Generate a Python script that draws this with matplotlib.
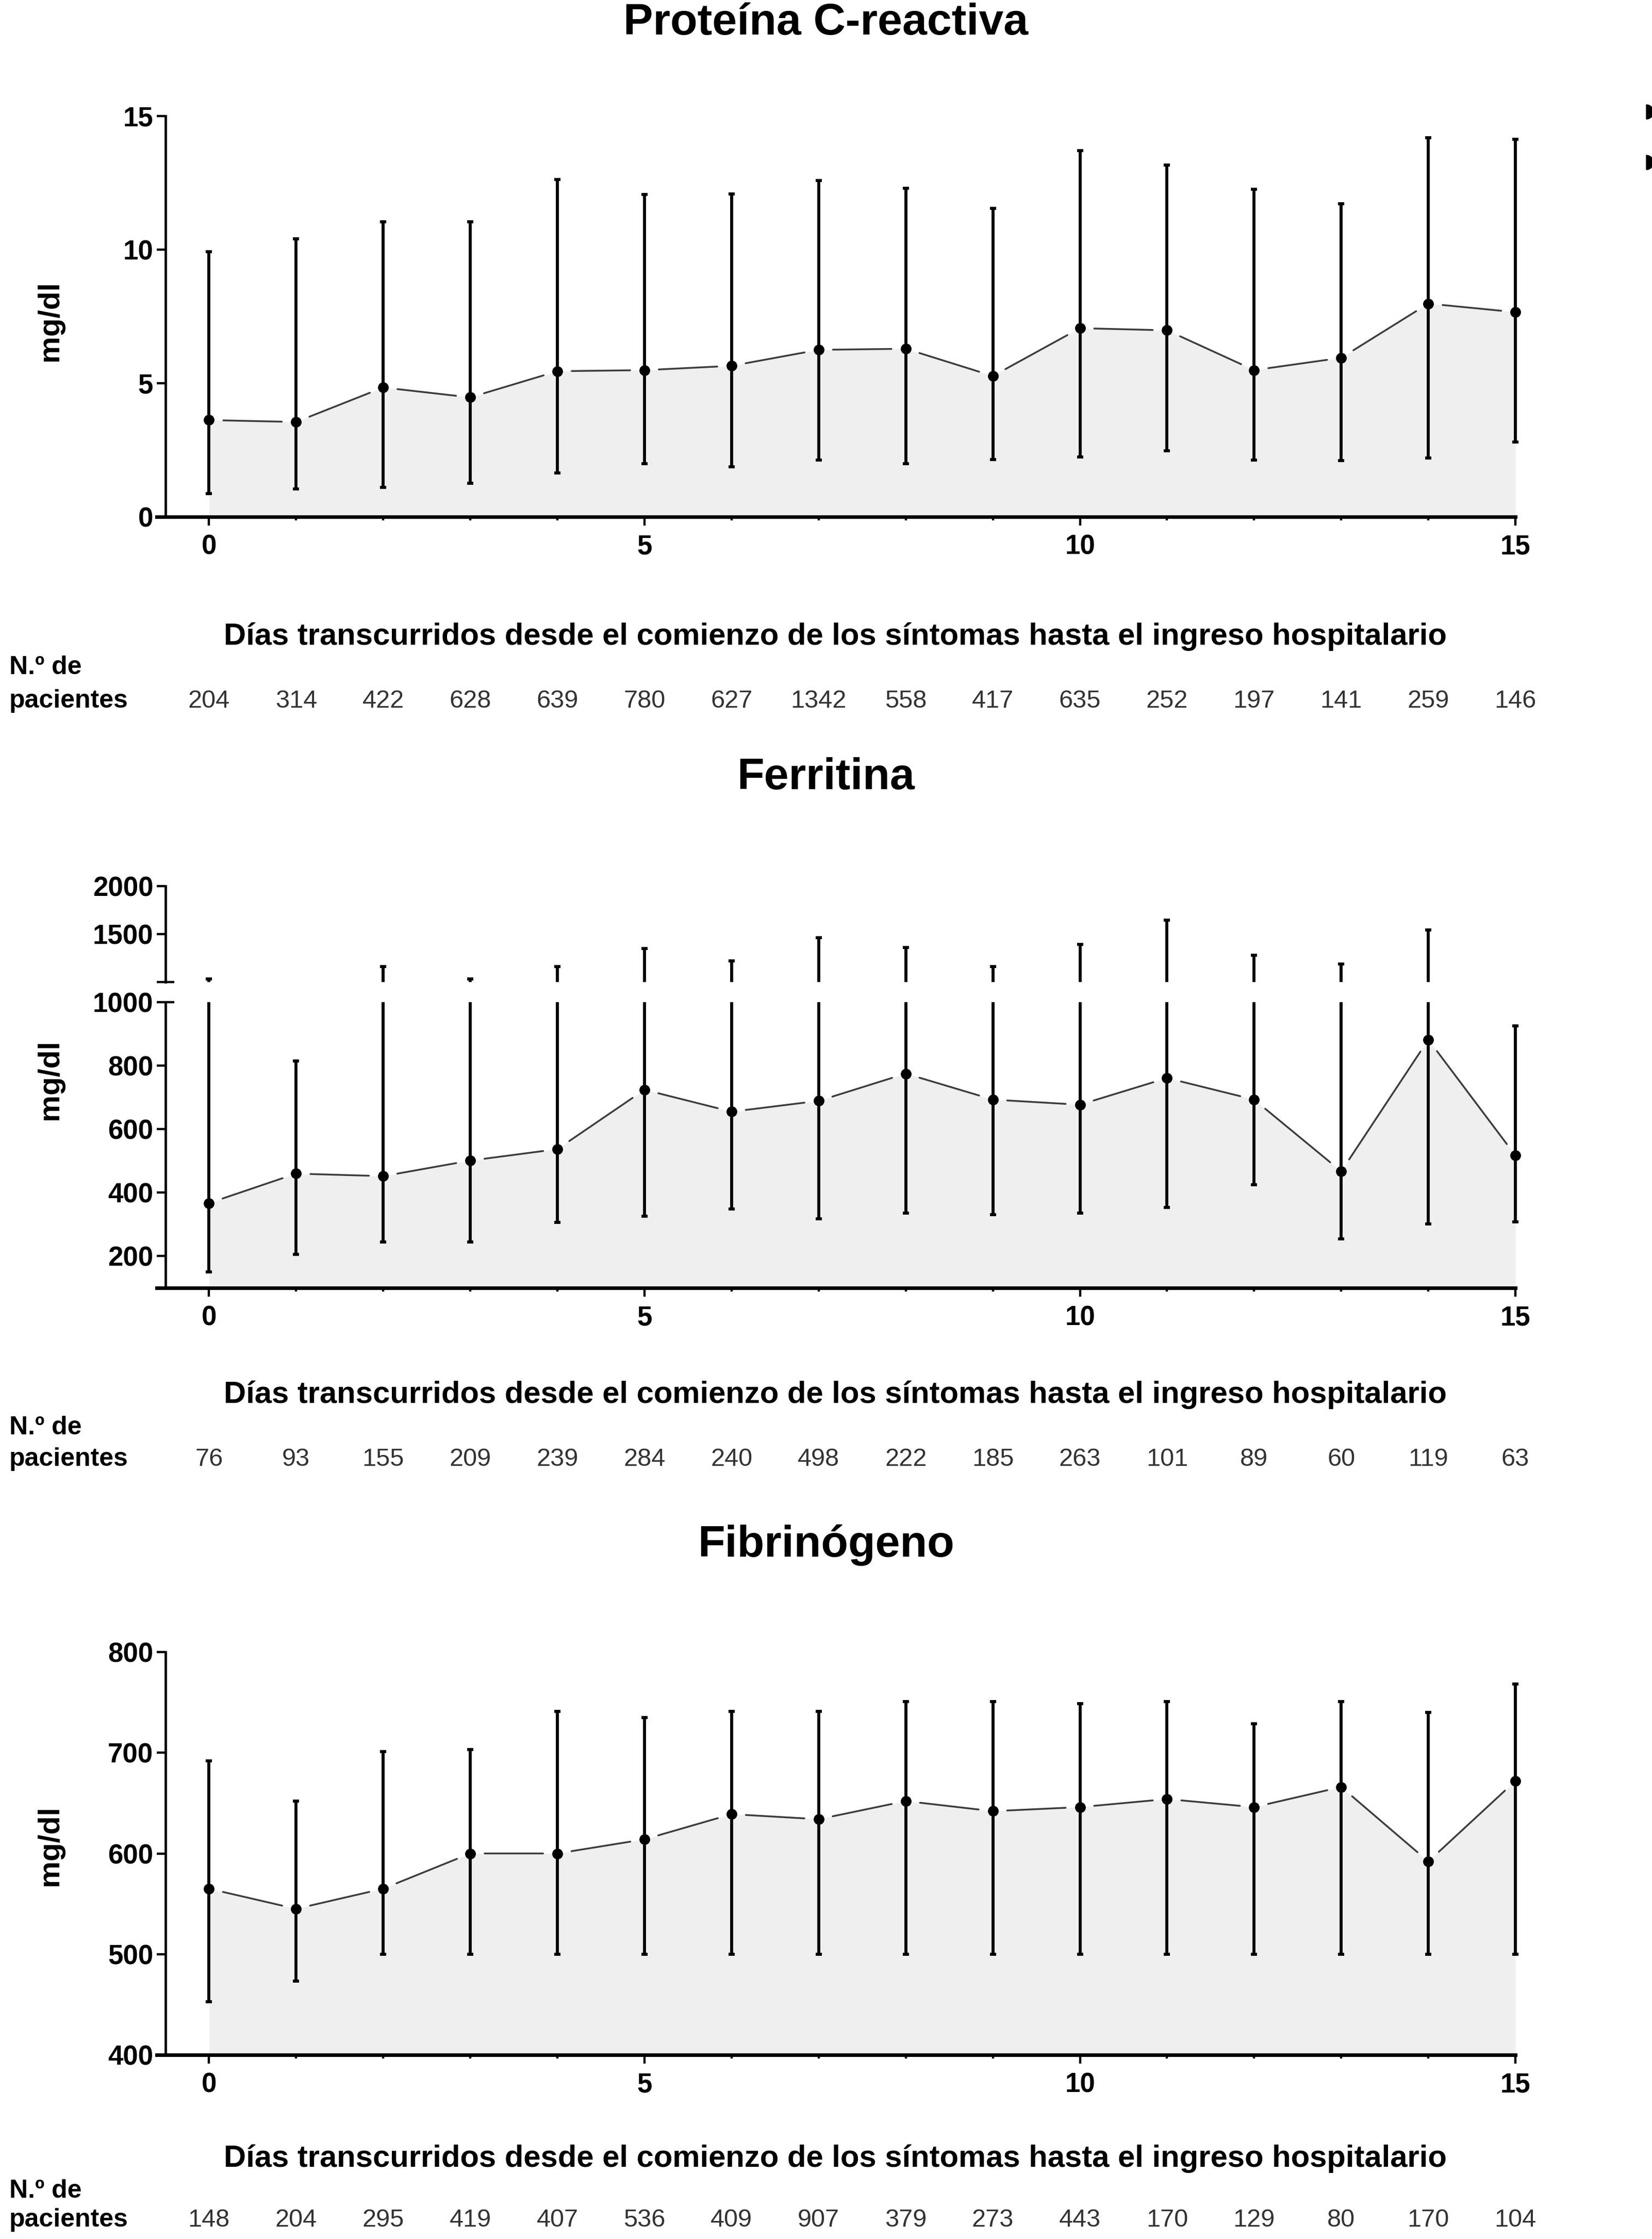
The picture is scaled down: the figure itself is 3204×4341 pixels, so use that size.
import numpy as np
import matplotlib.pyplot as plt
from matplotlib.ticker import MultipleLocator
from matplotlib.transforms import blended_transform_factory
from matplotlib.patches import Wedge

plt.rcParams['font.family'] = ['Liberation Sans', 'DejaVu Sans']
plt.rcParams['font.weight'] = 'bold'

# datos (medianas y rangos intercuartílicos)
days = np.arange(16)

crp_median = np.array([3.62, 3.55, 4.84, 4.47, 5.45, 5.49, 5.65, 6.25, 6.29, 5.27, 7.06, 6.98, 5.49, 5.95, 7.98, 7.66])
crp_upper = np.array([9.92, 10.41, 11.04, 11.04, 12.63, 12.06, 12.09, 12.59, 12.30, 11.54, 13.70, 13.16, 12.26, 11.71, 14.19, 14.13])
crp_lower = np.array([0.87, 1.04, 1.11, 1.25, 1.65, 1.99, 1.88, 2.13, 1.99, 2.15, 2.24, 2.47, 2.13, 2.10, 2.20, 2.79])
crp_n = [204, 314, 422, 628, 639, 780, 627, 1342, 558, 417, 635, 252, 197, 141, 259, 146]

ferr_median = np.array([367, 460, 452, 501, 537, 724, 655, 689, 775, 693, 677, 761, 693, 467, 882, 517])
ferr_upper = np.array([1030, 815, 1160, 1030, 1160, 1350, 1220, 1465, 1360, 1160, 1395, 1645, 1280, 1190, 1545, 926])
ferr_lower = np.array([151, 205, 244, 244, 306, 326, 348, 317, 335, 331, 335, 353, 425, 255, 302, 308])
ferr_n = [76, 93, 155, 209, 239, 284, 240, 498, 222, 185, 263, 101, 89, 60, 119, 63]

fib_median = np.array([565, 545, 565, 600, 600, 614, 639, 634, 652, 642, 646, 654, 646, 666, 592, 672])
fib_upper = np.array([692, 652, 701, 703, 741, 735, 741, 741, 751, 751, 749, 751, 729, 751, 740, 768])
fib_lower = np.array([453, 473, 500, 500, 500, 500, 500, 500, 500, 500, 500, 500, 500, 500, 500, 500])
fib_n = [148, 204, 295, 419, 407, 536, 409, 907, 379, 273, 443, 170, 129, 80, 170, 104]

xlabel = "Días transcurridos desde el comienzo de los síntomas hasta el ingreso hospitalario"

W, H = 3204, 4341
fig = plt.figure(figsize=(W / 100, H / 100), dpi=100)


def box(y_top, y_bot):  # axes rectangle from pixel rows
    x0, x1 = 304, 2956
    return [x0 / W, 1 - y_bot / H, (x1 - x0) / W, (y_bot - y_top) / H]


def style(ax, xaxis=True):
    ax.set_xlim(-0.6, 15.1)
    ax.spines['top'].set_visible(False)
    ax.spines['right'].set_visible(False)
    ax.spines['left'].set_position(('data', -0.5))
    ax.spines['left'].set_linewidth(3.4)
    ax.patch.set_alpha(0)
    ax.tick_params(axis='y', which='major', direction='out', length=12, width=3.2,
                   labelsize=38, pad=5)
    ax.tick_params(axis='y', which='minor', direction='inout', length=24, width=3.2,
                   labelsize=38, pad=5)
    if xaxis:
        ax.spines['bottom'].set_bounds(-0.6, 15)
        ax.spines['bottom'].set_linewidth(5)
        ax.xaxis.set_major_locator(MultipleLocator(5))
        ax.xaxis.set_minor_locator(MultipleLocator(1))
        ax.tick_params(axis='x', which='major', direction='out', length=12, width=3.2,
                       labelsize=38, pad=12)
        ax.tick_params(axis='x', which='minor', direction='out', length=5, width=3.2)
    else:
        ax.spines['bottom'].set_visible(False)
        ax.tick_params(axis='x', which='both', bottom=False, labelbottom=False)


def draw(ax, med, lo, hi, base, line=True):
    if line:
        ax.fill_between(days, med, base, color='#efefef', lw=0, zorder=1)
        for i in range(len(days) - 1):
            ax.annotate('', xy=(days[i + 1], med[i + 1]), xytext=(days[i], med[i]),
                        arrowprops=dict(arrowstyle='-', color='#3c3c3c', lw=2.5,
                                        shrinkA=20, shrinkB=20), zorder=2)
    ax.errorbar(days, med, yerr=[med - lo, hi - med], fmt='none', ecolor='black',
                elinewidth=4.2, capsize=4.3, capthick=4.2, zorder=3)
    if line:
        ax.plot(days, med, 'o', color='black', ms=14, zorder=4)


def footer(ax, counts, y_label, y_nde, y_pac):
    fig.text(1620 / W, 1 - y_label / H, xlabel, ha='center', va='baseline', fontsize=43)
    fig.text(18 / W, 1 - y_nde / H, "N.º de", ha='left', va='baseline', fontsize=36)
    fig.text(18 / W, 1 - y_pac / H, "pacientes", ha='left', va='baseline', fontsize=36)
    trans = blended_transform_factory(ax.transData, fig.transFigure)
    for d, n in zip(days, counts):
        ax.text(d, 1 - y_pac / H, str(n), transform=trans, ha='center', va='baseline',
                fontsize=35, fontweight='normal', color='#333333', clip_on=False)


# Proteína C-reactiva
ax1 = fig.add_axes(box(225, 1002))
style(ax1)
ax1.set_ylim(0, 15)
ax1.set_yticks([0, 5, 10, 15])
draw(ax1, crp_median, crp_lower, crp_upper, 0)
fig.text(0.5, 1 - 67 / H, "Proteína C-reactiva", ha='center', va='baseline', fontsize=62)
fig.text(97 / W, 1 - 622 / H, "mg/dl", rotation=90, ha='center', va='center', fontsize=42)
footer(ax1, crp_n, 1250, 1307, 1372)

# Ferritina (eje Y cortado)
ax2t = fig.add_axes(box(1718, 1904))
style(ax2t, xaxis=False)
ax2t.set_ylim(1000, 2000)
ax2t.set_yticks([1500, 2000])
ax2t.set_yticks([1000], labels=[''], minor=True)
draw(ax2t, ferr_median, ferr_lower, ferr_upper, 1000, line=False)

ax2 = fig.add_axes(box(1943, 2497))
style(ax2)
ax2.set_ylim(100, 1000)
ax2.set_yticks([200, 400, 600, 800])
ax2.set_yticks([1000], labels=['1000'], minor=True)
draw(ax2, ferr_median, ferr_lower, ferr_upper, 100)
fig.text(0.5, 1 - 1530 / H, "Ferritina", ha='center', va='baseline', fontsize=62)
fig.text(97 / W, 1 - 2093 / H, "mg/dl", rotation=90, ha='center', va='center', fontsize=42)
footer(ax2, ferr_n, 2720, 2781, 2842)

# Fibrinógeno
ax3 = fig.add_axes(box(3203, 3984))
style(ax3)
ax3.set_ylim(400, 800)
ax3.set_yticks([400, 500, 600, 700, 800])
draw(ax3, fib_median, fib_lower, fib_upper, 400)
fig.text(0.5, 1 - 3018 / H, "Fibrinógeno", ha='center', va='baseline', fontsize=62)
fig.text(97 / W, 1 - 3578 / H, "mg/dl", rotation=90, ha='center', va='center', fontsize=42)
footer(ax3, fib_n, 4201, 4261, 4317)

# restos recortados en el borde derecho
for yy in (217, 315):
    fig.patches.append(Wedge((3193 / 100, (H - yy) / 100), 0.14, -90, 90,
                             transform=fig.dpi_scale_trans, color='black'))

fig.savefig('out.png', dpi=100)
